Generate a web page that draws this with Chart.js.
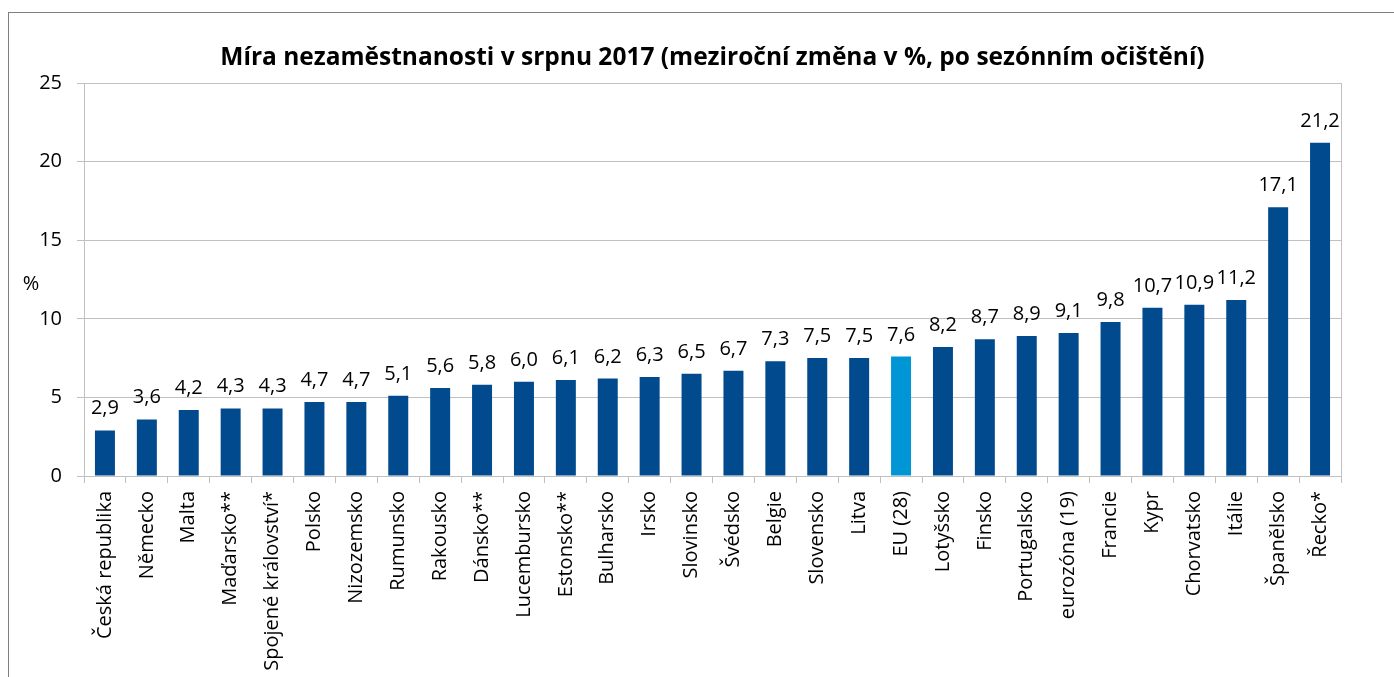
<!DOCTYPE html>
<html>
<head>
<meta charset="utf-8">
<script src="https://cdn.jsdelivr.net/npm/chart.js@4"></script>
<style>
  html, body { margin: 0; padding: 0; background: #fff; overflow: hidden; }
  #frame { position: absolute; left: 8px; top: 12px; width: 1400px; height: 700px; border: 1.5px solid #7f7f7f; }
  #wrap { position: absolute; left: 0; top: 0; width: 1394px; height: 677px; }
</style>
</head>
<body>
<div id="frame"></div>
<div id="wrap"><canvas id="chart"></canvas></div>
<script>
// Míra nezaměstnanosti, srpen 2017
const title = 'Míra nezaměstnanosti v srpnu 2017 (meziroční změna v %, po sezónním očištění)';
const countries = [
  'Česká republika', 'Německo', 'Malta', 'Maďarsko**', 'Spojené království*', 'Polsko',
  'Nizozemsko', 'Rumunsko', 'Rakousko', 'Dánsko**', 'Lucembursko', 'Estonsko**',
  'Bulharsko', 'Irsko', 'Slovinsko', 'Švédsko', 'Belgie', 'Slovensko', 'Litva',
  'EU (28)', 'Lotyšsko', 'Finsko', 'Portugalsko', 'eurozóna (19)', 'Francie', 'Kypr',
  'Chorvatsko', 'Itálie', 'Španělsko', 'Řecko*'
];
const rates = [
  2.9, 3.6, 4.2, 4.3, 4.3, 4.7,
  4.7, 5.1, 5.6, 5.8, 6.0, 6.1,
  6.2, 6.3, 6.5, 6.7, 7.3, 7.5, 7.5,
  7.6, 8.2, 8.7, 8.9, 9.1, 9.8, 10.7,
  10.9, 11.2, 17.1, 21.2
];
const highlight = 'EU (28)';

const dark = '#004a8d';
const light = '#0096d6';
const gridGray = '#c0c0c0';
const font = '"Open Sans", sans-serif';

const fmt = (v) => v.toFixed(1).replace('.', ',');

// title centred over the plot, labels above bars,
// the horizontal "%" and the right edge of the plot
const extras = {
  id: 'extras',
  afterDatasetsDraw(chart) {
    const ctx = chart.ctx;
    const meta = chart.getDatasetMeta(0);
    const a = chart.chartArea;
    ctx.save();
    ctx.fillStyle = '#000';

    ctx.font = 'bold 24.5px ' + font;
    ctx.textAlign = 'center';
    ctx.textBaseline = 'middle';
    ctx.fillText(title, (a.left + a.right) / 2, a.top - 25);

    ctx.font = '20px ' + font;
    ctx.textBaseline = 'alphabetic';
    meta.data.forEach((bar, i) => ctx.fillText(fmt(rates[i]), bar.x, bar.y - 16));

    ctx.strokeStyle = gridGray;
    ctx.lineWidth = 1;
    ctx.beginPath();
    ctx.moveTo(Math.round(a.right) + 0.5, a.top);
    ctx.lineTo(Math.round(a.right) + 0.5, a.bottom);
    ctx.stroke();

    ctx.textBaseline = 'middle';
    ctx.fillText('%', a.left - 53, chart.scales.y.getPixelForValue(12.2));
    ctx.restore();
  }
};

new Chart(document.getElementById('chart'), {
  type: 'bar',
  data: {
    labels: countries,
    datasets: [{
      data: rates,
      backgroundColor: countries.map(c => c === highlight ? light : dark),
      barPercentage: 0.477,
      categoryPercentage: 1
    }]
  },
  plugins: [extras],
  options: {
    responsive: true,
    maintainAspectRatio: false,
    animation: false,
    layout: { padding: { left: 0, right: 53, top: 83, bottom: 0 } },
    plugins: {
      legend: { display: false },
      tooltip: { enabled: false },
      title: { display: false }
    },
    scales: {
      x: {
        afterFit: (s) => { s.height = 201; },
        grid: { display: true, drawOnChartArea: false, drawTicks: true, tickLength: 7, color: gridGray },
        border: { color: gridGray },
        ticks: {
          color: '#000',
          font: { family: font, size: 20 },
          minRotation: 90, maxRotation: 90,
          autoSkip: false,
          padding: 8
        }
      },
      y: {
        min: 0, max: 25,
        afterFit: (s) => { s.width = 84; },
        grid: { color: gridGray, tickLength: 7 },
        border: { color: gridGray },
        ticks: {
          stepSize: 5,
          color: '#000',
          font: { family: font, size: 20 },
          padding: 15
        }
      }
    }
  }
});
</script>
</body>
</html>
